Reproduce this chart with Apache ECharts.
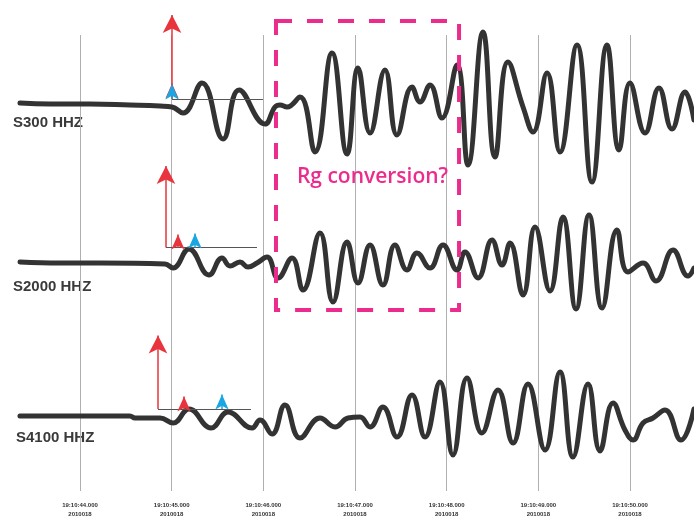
<!DOCTYPE html>
<html><head><meta charset="utf-8">
<script src="https://cdn.jsdelivr.net/npm/echarts@6/dist/echarts.min.js"></script>
<style>html,body{margin:0;padding:0;background:#fff}#c{width:694px;height:523px}</style>
</head><body><div id="c"></div>
<script>
// Time axis: seconds after 19:10:44.000 ; amplitude: trace units (up = positive)
const tickSeconds = [0, 1, 2, 3, 4, 5, 6];
const tickTimeLabels = ['19:10:44.000','19:10:45.000','19:10:46.000','19:10:47.000','19:10:48.000','19:10:49.000','19:10:50.000'];
const tickDateLabel = '2010018';
const stationNames = ['S300 HHZ', 'S2000 HHZ', 'S4100 HHZ'];

const s300 = [[-0.655,0],[-0.327,-1],[0.109,-1],[0.545,-2],[0.873,-3],[1.004,-4],[1.124,-10],[1.331,20],[1.560,-36],[1.735,13],[2.018,-21],[2.127,-4],[2.182,-2],[2.258,-4],[2.400,6],[2.564,-49],[2.749,50],[2.913,-51],[3.033,35],[3.164,-30],[3.327,33],[3.458,-32],[3.622,16],[3.709,1],[3.818,18],[3.949,-15],[4.113,38],[4.233,-62],[4.396,71],[4.527,-54],[4.669,41],[4.833,-4],[4.942,-29],[5.095,30],[5.236,-49],[5.422,58],[5.585,-79],[5.749,58],[5.880,-47],[6.000,20],[6.164,-30],[6.316,15],[6.458,-26],[6.600,11],[6.698,-17]];

const s2000 = [[-0.655,1],[-0.218,0],[0.218,0],[0.927,-1],[1.015,-5],[1.189,14],[1.407,-12],[1.549,5],[1.636,-3],[1.745,1],[1.833,-4],[1.931,0],[2.040,6],[2.160,-15],[2.313,5],[2.433,-27],[2.618,30],[2.760,-39],[2.913,21],[3.033,-20],[3.164,18],[3.305,-22],[3.436,18],[3.567,-7],[3.676,10],[3.818,-5],[3.960,18],[4.113,-7],[4.200,11],[4.342,-15],[4.495,23],[4.604,-2],[4.691,20],[4.833,-32],[4.964,36],[5.127,-28],[5.269,46],[5.411,-46],[5.553,48],[5.695,-45],[5.858,33],[5.978,-9],[6.142,0],[6.284,-18],[6.469,13],[6.633,-13],[6.698,-5]];

const s4100 = [[-0.655,0],[0.545,0],[0.600,-2],[0.873,-2],[1.015,-7],[1.189,7],[1.429,-12],[1.615,4],[1.876,-12],[1.964,-4],[2.095,-18],[2.236,11],[2.400,-22],[2.618,-2],[2.782,-11],[2.924,-2],[3.055,-1],[3.164,-11],[3.305,9],[3.458,-21],[3.622,21],[3.764,-21],[3.927,34],[4.069,-39],[4.222,38],[4.385,-17],[4.560,26],[4.724,-27],[4.887,32],[5.073,-34],[5.236,44],[5.378,-41],[5.542,32],[5.673,-35],[5.815,13],[5.945,-14],[6.033,-24],[6.142,-7],[6.251,-2],[6.382,6],[6.556,-24],[6.698,7]];

// picks per station: [bigArrowTime, baseAmp, bigArrowTip, baseLineEnd, pTime, pTip, sTime, sTip]
const picks300  = [1.004, 4, 97, 1.996, 1.004, 27, 1.004, 26];
const picks2000 = [0.938, 15.5, 106, 1.931, 1.069, 36, 1.255, 37];
const picks4100 = [0.851, 7, 89.5, 1.865, 1.135, 27, 1.549, 29];

// annotation box (on S2000 trace units): [t0, t1, ampTop, ampBottom]
const rgBox = [2.138, 4.135, 242, -47];
const rgLabel = 'Rg conversion?';

const RED = '#e8343c', BLUE = '#1aa6e2', PINK = '#ec2c8c', TRACE = '#333333';
const BIG = [14, 18], SMALL = [10, 15];

function arrow(t, base, tip, size, color, width) {
  return [
    { coord: [t, base], symbol: 'none', lineStyle: { color: color, width: width, type: 'solid' } },
    { coord: [t, tip - size[1] / 2], symbol: 'arrow', symbolSize: size }
  ];
}
function pickLines(p) {
  return [
    arrow(p[0], p[1], p[2], BIG, RED, 1.5),
    [ { coord: [p[0], p[1]], symbol: 'none', lineStyle: { color: '#555', width: 1, type: 'solid' } },
      { coord: [p[3], p[1]], symbol: 'none' } ],
    arrow(p[4], p[1], p[5], SMALL, RED, 1.5),
    arrow(p[6], p[1], p[7], SMALL, BLUE, 1.5)
  ];
}

const xMin = -0.87273, xMax = 6.69818;
const chart = echarts.init(document.getElementById('c'), null, { renderer: 'canvas' });

function traceSeries(data, yIdx, picks, extra) {
  const s = {
    type: 'line', xAxisIndex: 1, yAxisIndex: yIdx, data: data,
    smooth: 0.45, showSymbol: false, symbol: 'none', silent: true, animation: false,
    lineStyle: { color: TRACE, width: 5, join: 'round', cap: 'round' }, z: 3,
    markLine: { silent: true, animation: false, symbol: ['none', 'arrow'], label: { show: false }, z: 6,
      data: pickLines(picks) }
  };
  return Object.assign(s, extra || {});
}

chart.setOption({
  animation: false,
  backgroundColor: '#ffffff',
  grid: [
    { left: 80, width: 550, top: 35, height: 456 },
    { left: 0, width: 694, top: 0, height: 523 }
  ],
  xAxis: [
    { gridIndex: 0, type: 'value', min: 0, max: 6, interval: 1,
      axisLine: { show: false }, axisTick: { show: false },
      splitLine: { show: true, lineStyle: { color: '#b0b0b0', width: 1 } },
      axisLabel: { show: true, margin: 10, fontSize: 6, fontWeight: 'bold', lineHeight: 9,
        fontFamily: 'Liberation Sans', color: '#333',
        formatter: v => tickTimeLabels[tickSeconds.indexOf(v)] + '\n' + tickDateLabel } },
    { gridIndex: 1, type: 'value', min: xMin, max: xMax, show: false }
  ],
  yAxis: [
    { gridIndex: 0, type: 'value', show: false, min: 0, max: 1 },
    { gridIndex: 1, type: 'value', show: false, min: -420, max: 103 },
    { gridIndex: 1, type: 'value', show: false, min: -260, max: 263 },
    { gridIndex: 1, type: 'value', show: false, min: -107, max: 416 }
  ],
  graphic: [
    { type: 'text', left: 13, top: 115, style: { text: stationNames[0], fill: '#3a3a3a', font: 'bold 15px "Liberation Sans"' } },
    { type: 'text', left: 13, top: 279, style: { text: stationNames[1], fill: '#3a3a3a', font: 'bold 15px "Liberation Sans"' } },
    { type: 'text', left: 16, top: 430, style: { text: stationNames[2], fill: '#3a3a3a', font: 'bold 15px "Liberation Sans"' } }
  ],
  series: [
    traceSeries(s300, 1, picks300),
    traceSeries(s2000, 2, picks2000, {
      markArea: { silent: true, z: 8,
        itemStyle: { color: 'rgba(0,0,0,0)', borderColor: PINK, borderWidth: 4, borderType: [16, 15] },
        label: { show: true, position: 'inside', offset: [5, 12], formatter: rgLabel, color: PINK,
          fontSize: 21, fontFamily: 'Open Sans', fontWeight: 600 },
        data: [[ { coord: [rgBox[0], rgBox[2]] }, { coord: [rgBox[1], rgBox[3]] } ]] }
    }),
    traceSeries(s4100, 3, picks4100)
  ]
});
</script></body></html>
